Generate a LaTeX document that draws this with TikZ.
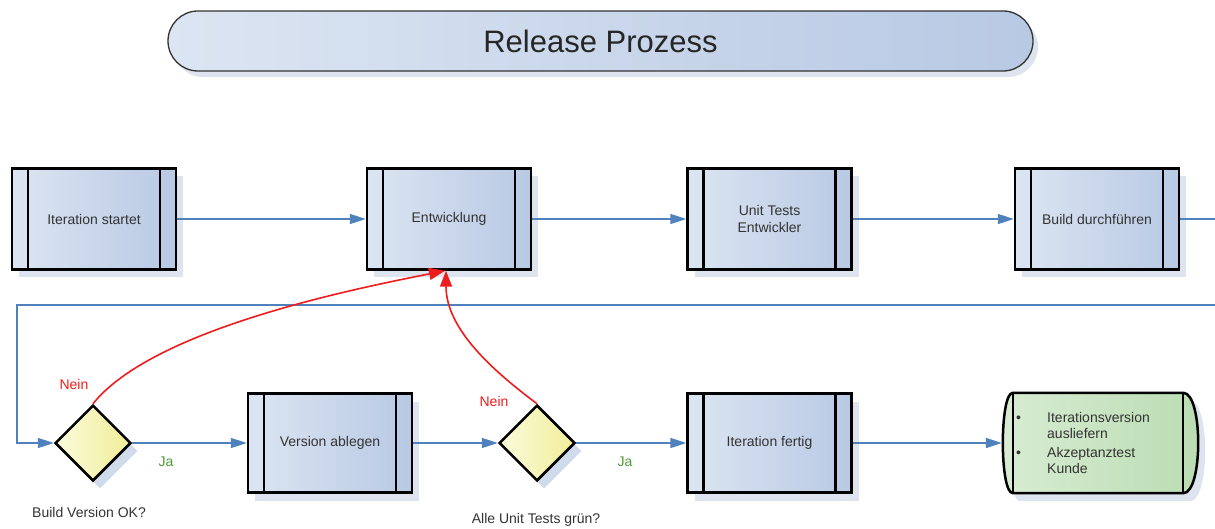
\documentclass[tikz,border=0pt]{standalone}
\usepackage{fontspec}
\setmainfont{Liberation Sans}
\usetikzlibrary{shapes.geometric,shadows,arrows.meta}
\definecolor{boxL}{HTML}{DCE5F2}
\definecolor{boxR}{HTML}{B8C9E4}
\definecolor{shad}{HTML}{DDE4EF}
\definecolor{flowc}{HTML}{4F81BD}
\definecolor{redc}{HTML}{EE1C1C}
\definecolor{jac}{HTML}{4E9A3A}
\definecolor{txt}{HTML}{333333}
\definecolor{dL}{HTML}{FBFBDC}
\definecolor{dR}{HTML}{F0EE98}
\definecolor{gL}{HTML}{D8ECD3}
\definecolor{gR}{HTML}{BADCB2}
\tikzset{
  proc/.style={draw=black, line width=2.5pt, minimum width=164pt, minimum height=101pt,
    left color=boxL, right color=boxR, font=\fontsize{14}{17}\selectfont, text=txt, align=center,
    drop shadow={shadow xshift=7pt, shadow yshift=-8pt, fill=shad, opacity=1},
    path picture={\draw[line width=2.5pt]
      ([xshift=16pt]path picture bounding box.north west) -- ([xshift=16pt]path picture bounding box.south west)
      ([xshift=-16pt]path picture bounding box.north east) -- ([xshift=-16pt]path picture bounding box.south east);}},
  decis/.style={shape=diamond, aspect=1, minimum width=76pt, minimum height=76pt, inner sep=0pt,
    draw=black, line width=2.5pt, left color=dL, right color=dR,
    drop shadow={shadow xshift=7pt, shadow yshift=-8pt, fill=shad!90!flowc, opacity=1}},
  flow/.style={draw=flowc, line width=1.6pt, -{Triangle[length=16pt,width=10pt]}},
  back/.style={draw=redc, line width=1.6pt, -{Triangle[length=16pt,width=12pt]}},
  lbl/.style={font=\fontsize{14}{17}\selectfont, text=txt, inner sep=0pt},
  nein/.style={font=\fontsize{14}{17}\selectfont, text=redc, inner sep=0pt},
  ja/.style={font=\fontsize{14}{17}\selectfont, text=jac, inner sep=0pt},
}
\begin{document}
\begin{tikzpicture}[x=1pt,y=-1pt]
\clip (0,0) rectangle (1215,529);
% title
\node[draw=black!80, line width=1.3pt, rounded corners=30pt, minimum width=865pt, minimum height=60pt,
  left color=boxL, right color=boxR, font=\fontsize{31}{35}\selectfont, text=black!85,
  drop shadow={shadow xshift=5pt, shadow yshift=-6pt, fill=shad, opacity=1}] (ttl) at (600.5,41) {Release Prozess};
% top row
\node[proc] (it) at (94,219) {Iteration startet};
\node[proc] (ent) at (449,219) {Entwicklung};
\node[proc] (ut) at (769.5,219) {Unit Tests\\Entwickler};
\node[proc] (bd) at (1097,219) {Build durchführen};
% bottom row
\node[decis] (d1) at (93,443) {};
\node[proc, minimum height=99pt] (va) at (330,443) {Version ablegen};
\node[decis] (d2) at (537,443) {};
\node[proc, minimum height=99pt] (itf) at (769.5,443) {Iteration fertig};
% final terminal
\node[minimum width=195pt, minimum height=100pt, inner sep=0pt] (fin) at (1100.5,443) {};
\path[draw=black, line width=2.5pt, left color=gL, right color=gR,
  drop shadow={shadow xshift=7pt, shadow yshift=-8pt, fill=shad, opacity=1}]
  ([xshift=10pt]fin.north west) -- ([xshift=-15pt]fin.north east)
  .. controls +(20,0) and +(20,0) .. ([xshift=-15pt]fin.south east)
  -- ([xshift=10pt]fin.south west)
  .. controls +(-13.3,0) and +(-13.3,0) .. ([xshift=10pt]fin.north west) -- cycle;
\draw[line width=2.5pt] ([xshift=10pt]fin.north west) -- ([xshift=10pt]fin.south west)
  ([xshift=-15pt]fin.north east) -- ([xshift=-15pt]fin.south east);
\node[anchor=west, inner sep=0pt, font=\fontsize{14}{16}\selectfont, text=txt, align=left] (fintxt) at (1016,445)
  {\begin{tabular}{@{}p{31pt}@{}l@{}}\textbullet & Iterationsversion\\ & ausliefern\\[3pt]
   \textbullet & Akzeptanztest\\ & Kunde\end{tabular}};
% coordinate for loop
\coordinate (loopc) at (17,305);
% connectors
\draw[flow] (it.east) -- (ent.west);
\draw[flow] (ent.east) -- (ut.west);
\draw[flow] (ut.east) -- (bd.west);
\draw[flow] (bd.east) -- ++(60,0) |- (loopc) |- (d1.west);
\draw[flow] (d1.east) -- (va.west);
\draw[flow] (va.east) -- (d2.west);
\draw[flow] (d2.east) -- (itf.west);
\draw[flow] (itf.east) -- ([xshift=-1pt]fin.west);
\draw[back] (d1.north) .. controls +(60,-75) and +(-90,18) .. ([xshift=-4pt]ent.south);
\draw[back] (d2.north) .. controls +(-40,-30) and +(0,60) .. ([xshift=-3pt]ent.south);
% labels
\node[nein] (n1) at (74,384) {Nein};
\node[nein] (n2) at (494,401) {Nein};
\node[ja] (j1) at (166,462) {Ja};
\node[ja] (j2) at (625,462) {Ja};
\node[lbl] (q1) at (89,512) {Build Version OK?};
\node[lbl] (q2) at (536,520) {Alle Unit Tests grün?};
\end{tikzpicture}
\end{document}
